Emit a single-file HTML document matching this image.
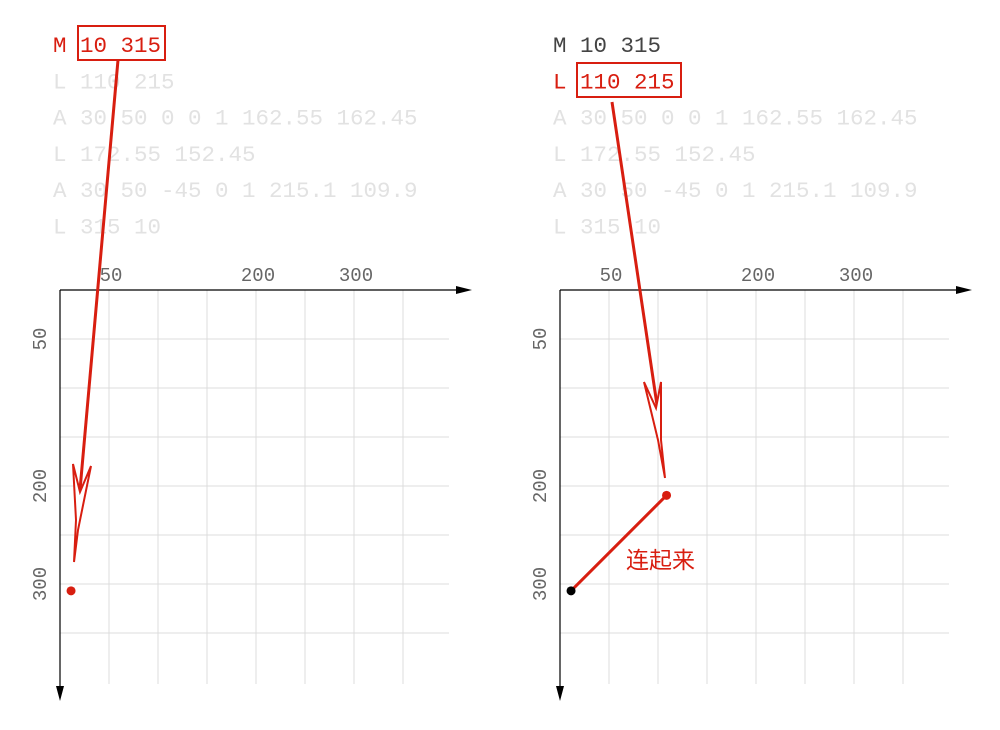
<!DOCTYPE html>
<html><head><meta charset="utf-8">
<style>
html,body{margin:0;padding:0;background:#fff;}
svg{display:block;}
text{font-family:"Liberation Mono","DejaVu Sans Mono","Noto Sans CJK SC",monospace;}
</style></head>
<body>
<svg id="chart" width="1000" height="730" viewBox="0 0 1000 730" xmlns="http://www.w3.org/2000/svg"></svg>
<script>
const pathCommands = ["M 10 315","L 110 215","A 30 50 0 0 1 162.55 162.45","L 172.55 152.45","A 30 50 -45 0 1 215.1 109.9","L 315 10"];
const gridValues = [50,100,150,200,250,300,350];
const tickLabels = [50,200,300];
const pointsX = [10,110];
const pointsY = [315,215];
const panels = [0,500];

const NS="http://www.w3.org/2000/svg";
const svg=document.getElementById('chart');
function el(tag,attrs,parent){const e=document.createElementNS(NS,tag);for(const k in attrs)e.setAttribute(k,attrs[k]);(parent||svg).appendChild(e);return e;}
const X0=60,Y0=290,S=0.98,PS=0.955;
function gx(off,v){return off+X0+v*S;}
function gy(v){return Y0+v*S;}
function px(off,v){return off+X0+1.5+v*PS;}
function py(v){return Y0+v*PS;}
const RED="#d81e10";

panels.forEach((off,pi)=>{
  const g=el('g',{});
  
  
  pathCommands.forEach((c,i)=>{
    let fill="#e2e2e2";
    if(pi===0&&i===0)fill=RED;
    if(pi===1&&i===0)fill="#444";
    if(pi===1&&i===1)fill=RED;
    const t=el('text',{x:off+53,y:52+i*36.3,'font-size':'22.5',fill:fill},g);
    t.textContent=c;
    
    
  });
  const bw=pi===0?[78,165,26,60]:[577,681,63,97];
  const box=el('rect',{x:bw[0],y:bw[2],width:bw[1]-bw[0],height:bw[3]-bw[2],fill:'none',stroke:RED,'stroke-width':2},g);
  
  
  gridValues.forEach(v=>{
    const l1=el('line',{x1:gx(off,v),y1:Y0,x2:gx(off,v),y2:684,stroke:'#dcdcdc','stroke-width':1},g);
    
    
    const l2=el('line',{x1:off+X0,y1:gy(v),x2:off+449,y2:gy(v),stroke:'#dcdcdc','stroke-width':1},g);
    
    
  });
  tickLabels.forEach(v=>{
    const t=el('text',{x:gx(off,v)+2,y:281,'font-size':'19','text-anchor':'middle',fill:'#666'},g);
    t.textContent=v;
    
    
    const ty=el('text',{x:0,y:0,'font-size':'19','text-anchor':'middle',fill:'#666',transform:`translate(${off+46},${gy(v)}) rotate(-90)`},g);
    ty.textContent=v;
    
    
  });
  const ax=el('line',{x1:off+X0,y1:Y0,x2:off+460,y2:Y0,stroke:'#000','stroke-width':1.2},g);
  
  
  const axh=el('polygon',{points:`${off+456},286 ${off+472},290 ${off+456},294`,fill:'#000'},g);
  
  
  const ay=el('line',{x1:off+X0,y1:Y0,x2:off+X0,y2:692,stroke:'#000','stroke-width':1.2},g);
  
  
  const ayh=el('polygon',{points:`${off+56},686 ${off+60},701 ${off+64},686`,fill:'#000'},g);
  
  
});

let a1=el('line',{x1:118,y1:60,x2:80,y2:490,stroke:RED,'stroke-width':3});


let h1=el('polygon',{points:'73,464 80,492 91,466 78,530 74,562 76,520',fill:'#fff',stroke:RED,'stroke-width':2});


let d1=el('circle',{cx:px(0,pointsX[0]),cy:py(pointsY[0]),r:4.5,fill:RED});



let a2=el('line',{x1:612,y1:102,x2:657,y2:405,stroke:RED,'stroke-width':3});


let h2=el('polygon',{points:'644,382 656,408 661,382 661,440 665,478 658,440',fill:'#fff',stroke:RED,'stroke-width':2});


let seg=el('line',{x1:px(500,pointsX[0]),y1:py(pointsY[0]),x2:px(500,pointsX[1]),y2:py(pointsY[1]),stroke:RED,'stroke-width':3});


let d2=el('circle',{cx:px(500,pointsX[0]),cy:py(pointsY[0]),r:4.5,fill:'#000'});


let d3=el('circle',{cx:px(500,pointsX[1]),cy:py(pointsY[1]),r:4.5,fill:RED});


let lbl=el('text',{x:626,y:568,'font-size':'23',fill:RED,style:'font-family:"Noto Sans CJK SC",sans-serif'});
lbl.textContent='连起来';


</script>
</body></html>
